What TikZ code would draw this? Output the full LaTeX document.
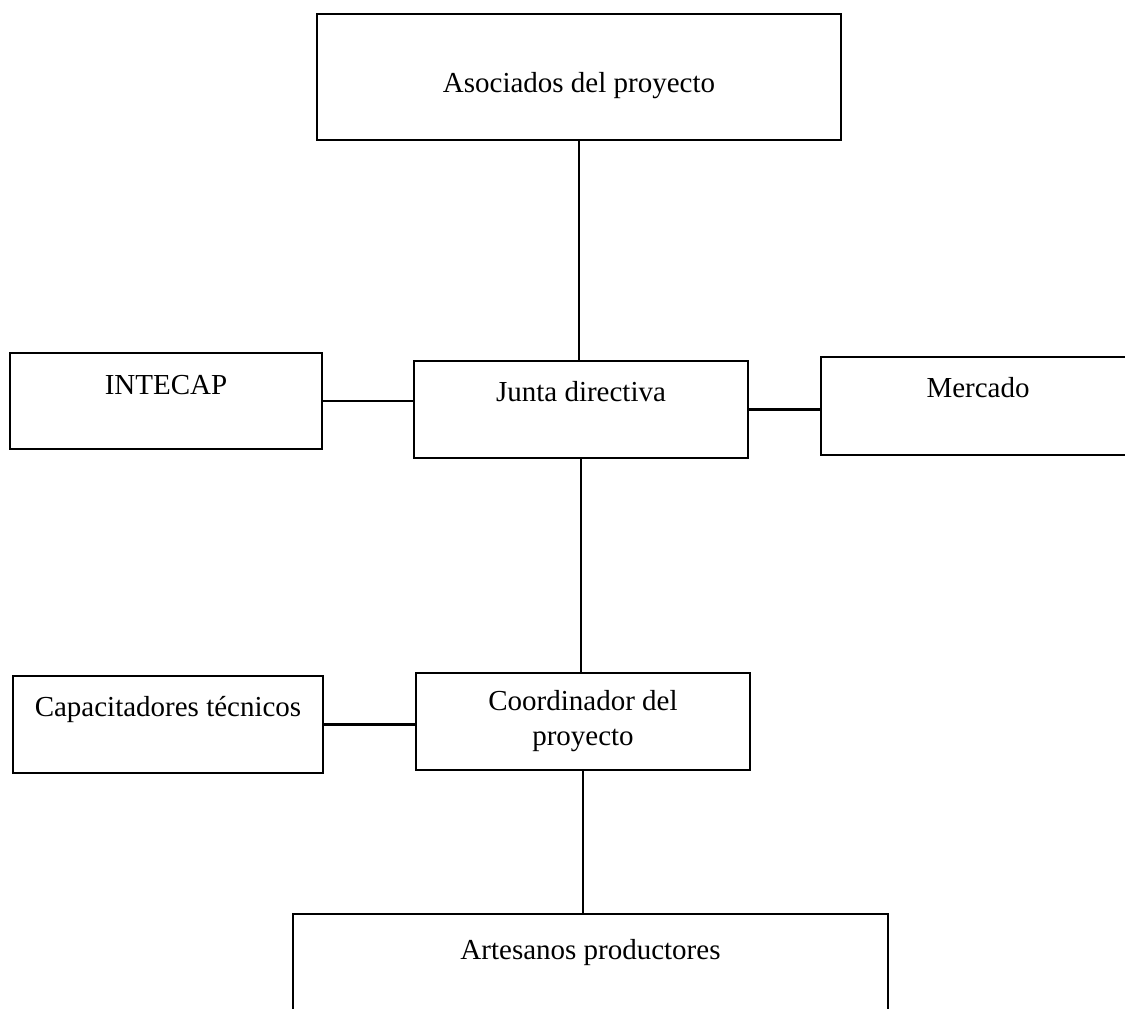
\documentclass[tikz,border=0pt]{standalone}
\usepackage{fontspec}
\setmainfont{Liberation Serif}
\usetikzlibrary{positioning}
\tikzset{
  box/.style={draw,line width=1.2pt,inner sep=0pt,align=center,
    font=\fontsize{16.5}{19.9}\selectfont},
  sz/.style 2 args={minimum width=#1*0.02cm,minimum height=#2*0.02cm},
  txtup/.style={text height=0.4cm,text depth=#1*0.02cm},
  txtdown/.style={text height=#1*0.02cm,text depth=0.14cm},
  link/.style={line width=1.2pt},
}
\begin{document}
\begin{tikzpicture}[x=0.02cm,y=-0.02cm]
\useasboundingbox (0,0) rectangle (1125,1008);
% boxes
\node[box,sz={524}{126},txtdown=38] (asoc) at (579,77) {Asociados del proyecto};
\node[box,sz={312}{96},txtup=33] (intecap) at (166,401) {INTECAP};
\node[box,sz={334}{97},txtup=36] (junta) at (581,409.5) {Junta directiva};
\node[box,sz={314}{98},txtup=37] (mercado) at (978,406) {Mercado};
\node[box,sz={310}{97},txtup=36] (capac) at (168,724.5) {Capacitadores técnicos};
\node[box,sz={334}{97}] (coord) at (583,721.5) {Coordinador del\\proyecto};
\node[box,sz={595}{106},txtup=35] (artes) at (590.5,967) {Artesanos productores};
% connectors
\draw[link] (asoc.south) -- (asoc.south |- junta.north);
\draw[link] (junta.south) -- (junta.south |- coord.north);
\draw[link] (coord.south) -- (coord.south |- artes.north);
\draw[link] (intecap.east) -- (intecap.east -| junta.west);
\draw[link] (junta.east) -- (junta.east -| mercado.west);
\draw[link] (capac.east) -- (capac.east -| coord.west);
\end{tikzpicture}
\end{document}
